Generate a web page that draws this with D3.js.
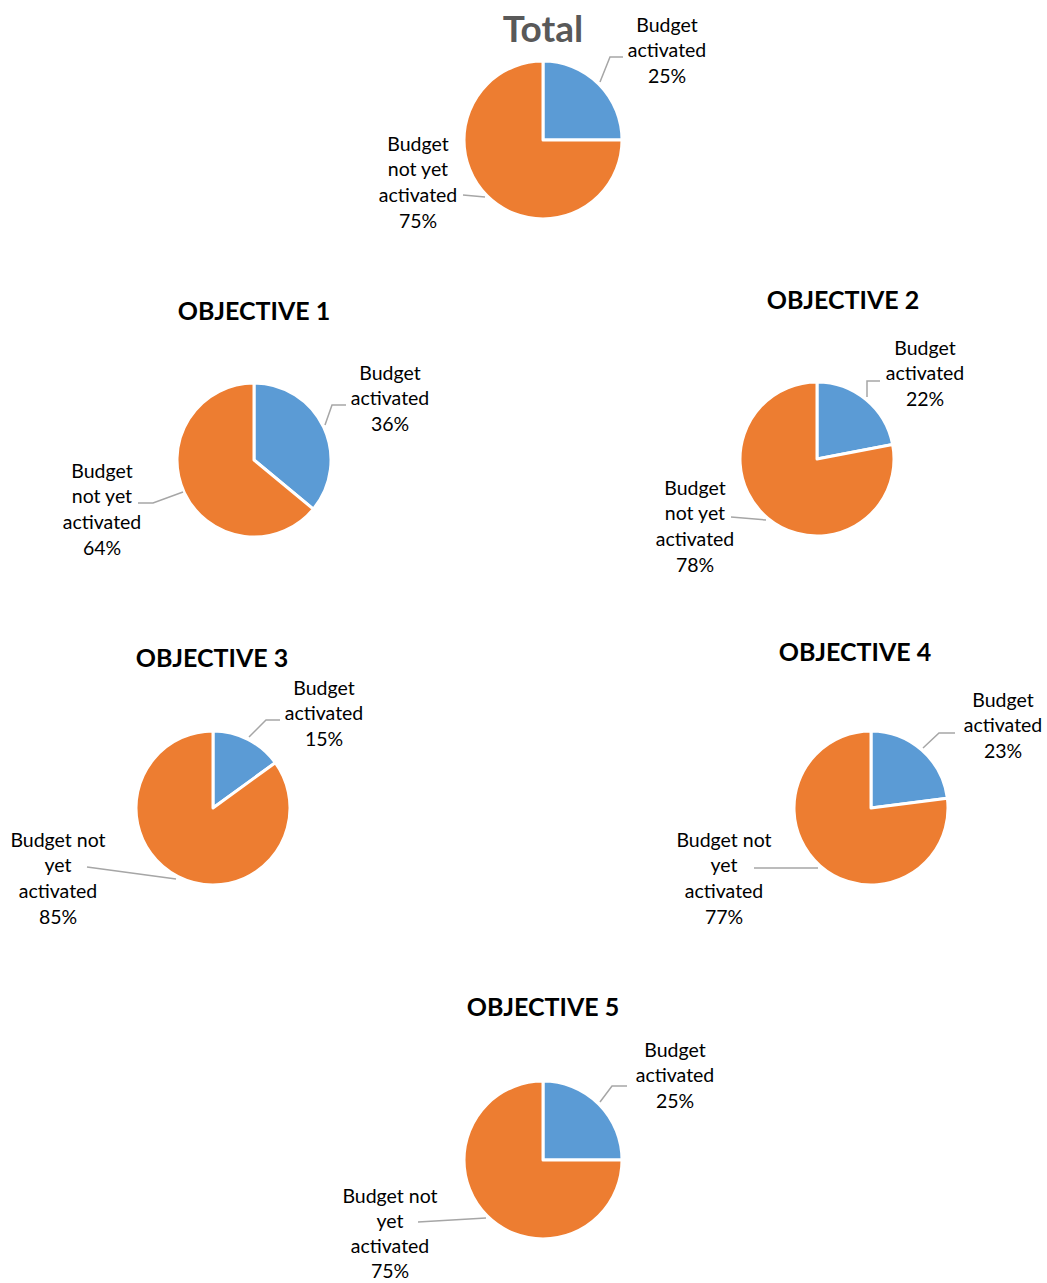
<!DOCTYPE html>
<html><head><meta charset="utf-8">
<script src="https://cdn.jsdelivr.net/npm/d3@7"></script>
<style>body{margin:0;background:#fff}svg{display:block}</style>
</head><body>
<svg id="c" width="1047" height="1283"></svg>
<script>
// ---- data ----
const titles = ["Total", "OBJECTIVE 1", "OBJECTIVE 2", "OBJECTIVE 3", "OBJECTIVE 4", "OBJECTIVE 5"];
const categories = ["Budget activated", "Budget not yet activated"];
const activated = [25, 36, 22, 15, 23, 25];
const notActivated = [75, 64, 78, 85, 77, 75];
const activatedLabelLines = [["Budget", "activated"], ["Budget", "activated"], ["Budget", "activated"], ["Budget", "activated"], ["Budget", "activated"], ["Budget", "activated"]];
const notActivatedLabelLines = [["Budget", "not yet", "activated"], ["Budget", "not yet", "activated"], ["Budget", "not yet", "activated"], ["Budget not", "yet", "activated"], ["Budget not", "yet", "activated"], ["Budget not", "yet", "activated"]];

// ---- layout (positions, not data) ----
const layout = [
  {cx:543, cy:140, r:79, tx:543, ty:42, big:true, la:{x:667,y:25}, ln:{x:418,y:144},
   leadA:[[600,82],[610,57],[623,57]], leadN:[[463,195],[485,197]]},
  {cx:254, cy:460, r:77, tx:254, ty:320, la:{x:390,y:373}, ln:{x:102,y:471},
   leadA:[[325,425],[332,405],[346,405]], leadN:[[138,503],[153,503],[183,492]]},
  {cx:817, cy:459, r:77, tx:843, ty:309, la:{x:925,y:348}, ln:{x:695,y:488},
   leadA:[[867,397],[867,381],[880,381]], leadN:[[731,517],[766,520]]},
  {cx:213, cy:808, r:77, tx:212, ty:667, la:{x:324,y:688}, ln:{x:58,y:840},
   leadA:[[249,737],[266,720],[280,720]], leadN:[[87,867],[176,879]]},
  {cx:871, cy:808, r:77, tx:855, ty:661, la:{x:1003,y:700}, ln:{x:724,y:840},
   leadA:[[923,748],[939,733],[955,733]], leadN:[[754,868],[818,868]]},
  {cx:543, cy:1160, r:79, tx:543, ty:1016, la:{x:675,y:1050}, ln:{x:390,y:1196, sp:25},
   leadA:[[600,1102],[612,1086],[627,1086]], leadN:[[418,1222],[486,1218]]}
];

const colors = d3.scaleOrdinal().domain(categories).range(["#5B9BD5", "#ED7D31"]);
const svg = d3.select("#c");
const font = "Lato, 'Open Sans', sans-serif";
const pie = d3.pie().sort(null).value(d => d.value);
const lineGen = d3.line();

titles.forEach((title, i) => {
  const L = layout[i];
  const data = [
    {cat: categories[0], value: activated[i], lines: activatedLabelLines[i], pos: L.la, lead: L.leadA},
    {cat: categories[1], value: notActivated[i], lines: notActivatedLabelLines[i], pos: L.ln, lead: L.leadN}
  ];
  const g = svg.append("g");
  g.append("text")
    .attr("x", L.tx).attr("y", L.ty)
    .attr("text-anchor", "middle")
    .attr("font-family", font)
    .attr("font-weight", "bold")
    .attr("font-size", L.big ? 37 : 25)
    .attr("fill", L.big ? "#595959" : "#000")
    .text(title);
  const arc = d3.arc().innerRadius(0).outerRadius(L.r);
  g.append("g").attr("transform", `translate(${L.cx},${L.cy})`)
    .selectAll("path").data(pie(data)).join("path")
    .attr("d", arc)
    .attr("fill", d => colors(d.data.cat))
    .attr("stroke", "#fff").attr("stroke-width", 3).attr("stroke-linejoin", "round");
  g.selectAll("path.lead").data(data).join("path")
    .attr("class", "lead")
    .attr("d", d => lineGen(d.lead))
    .attr("fill", "none").attr("stroke", "#A6A6A6").attr("stroke-width", 1.5);
  data.forEach(d => {
    const t = g.append("text")
      .attr("text-anchor", "middle")
      .attr("font-family", font)
      .attr("font-size", 19.5)
      .attr("fill", "#000");
    const lines = d.lines.concat([d.value + "%"]);
    const sp = d.pos.sp || 25.6;
    lines.forEach((s, k) => {
      t.append("tspan").attr("x", d.pos.x).attr("y", d.pos.y + k * sp)
        .attr("dy", "0.35em").text(s);
    });
  });
});
</script>
</body></html>
